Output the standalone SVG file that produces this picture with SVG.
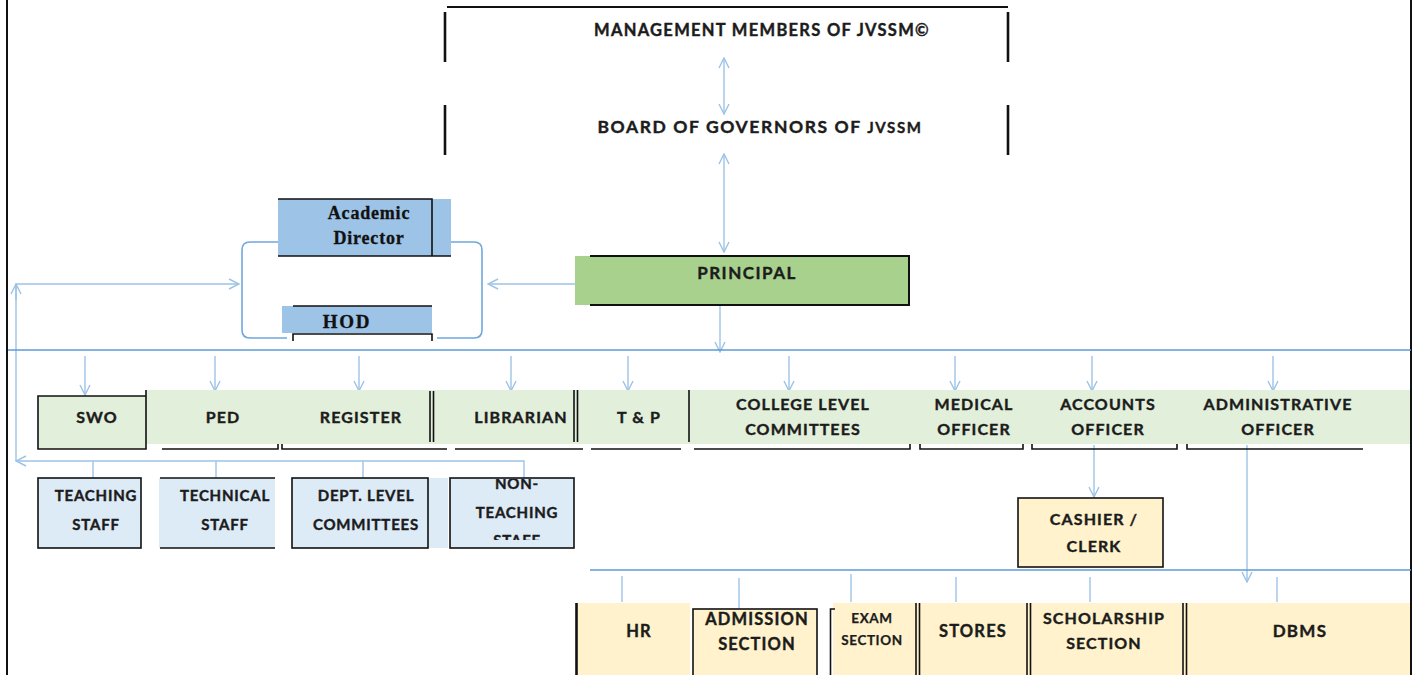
<svg xmlns="http://www.w3.org/2000/svg" width="1418" height="675" viewBox="0 0 1418 675">
<style>
  .t{font-family:Lato,"Open Sans","Liberation Sans",sans-serif;font-weight:bold;fill:#1c1c1c;stroke:#1c1c1c;stroke-width:0.4px;text-anchor:middle;font-size:16px;letter-spacing:1.1px}
  .m{font-size:15px;letter-spacing:0.8px}
  .bt{font-size:16.5px;letter-spacing:1.1px}
  .s{font-family:"Liberation Serif","DejaVu Serif",serif;font-weight:bold;fill:#111;stroke:#111;stroke-width:0.3px;text-anchor:middle;font-size:18px;letter-spacing:0.8px}
  .k{stroke:#111;fill:none;stroke-width:1.6}
  .kb{stroke:#111;fill:none;stroke-width:2.6}
  .c{stroke:#9dc3e6;fill:none;stroke-width:1.4}
  .tr{stroke:#5b9bd5;fill:none;stroke-width:1.6}
  .g{fill:#e2efda}
  .b{fill:#ddebf7}
  .y{fill:#fff2cc}
</style>
<defs>
  <marker id="ah" viewBox="0 0 12 12" refX="11" refY="6" markerWidth="12" markerHeight="12" markerUnits="userSpaceOnUse" orient="auto-start-reverse">
    <path d="M1,1 L11,6 L1,11" fill="none" stroke="#9dc3e6" stroke-width="1.4"/>
  </marker>
  <clipPath id="ntclip"><rect x="451" y="479" width="122" height="61"/></clipPath>
</defs>

<g id="frame">
  <line x1="7" y1="0" x2="7" y2="675" class="kb" style="stroke-width:2"/>
  <line x1="1411" y1="0" x2="1411" y2="675" class="kb" style="stroke-width:2"/>
</g>

<g id="management">
  <line x1="447" y1="7" x2="1008" y2="7" class="k" style="stroke-width:2"/>
  <line x1="445" y1="12" x2="445" y2="62" class="kb"/>
  <line x1="1008" y1="12" x2="1008" y2="62" class="kb"/>
  <text x="762" y="36" class="t" style="font-size:16.5px;letter-spacing:1.3px">MANAGEMENT MEMBERS OF JVSSM©</text>
</g>

<g id="board">
  <line x1="445" y1="105" x2="445" y2="155" class="kb"/>
  <line x1="1008" y1="105" x2="1008" y2="155" class="kb"/>
  <text x="760" y="133" class="t" style="font-size:17.5px;letter-spacing:1.6px">BOARD OF GOVERNORS OF <tspan style="font-size:15px">JVSSM</tspan></text>
</g>

<g id="connectors">
  <line x1="724" y1="58" x2="724" y2="114" class="c" marker-start="url(#ah)" marker-end="url(#ah)"/>
  <line x1="724" y1="154" x2="724" y2="252" class="c" marker-start="url(#ah)" marker-end="url(#ah)"/>
  <line x1="720" y1="306" x2="720" y2="352" class="c" marker-end="url(#ah)"/>
  <line x1="575" y1="284" x2="488" y2="284" class="c" marker-end="url(#ah)"/>
  <path d="M280,242 H250 Q242,242 242,250 V330 Q242,338 250,338 H287" class="tr" style="stroke:#6fa8dc"/>
  <path d="M451,242 H474 Q482,242 482,250 V330 Q482,338 474,338 H437" class="tr" style="stroke:#6fa8dc"/>
  <path d="M16,461 V284 H239" class="c" marker-end="url(#ah)"/>
  <line x1="16" y1="300" x2="16" y2="284" class="c" marker-end="url(#ah)"/>
  <path d="M524,481 V461 H16" class="c" marker-end="url(#ah)"/>
  <line x1="93" y1="461" x2="93" y2="478" class="c"/>
  <line x1="216" y1="461" x2="216" y2="478" class="c"/>
  <line x1="363" y1="461" x2="363" y2="478" class="c"/>
  <line x1="8" y1="350" x2="1411" y2="350" class="tr"/>
  <line x1="85" y1="356" x2="85" y2="395" class="c" marker-end="url(#ah)"/>
  <line x1="215" y1="356" x2="215" y2="391" class="c" marker-end="url(#ah)"/>
  <line x1="359" y1="356" x2="359" y2="391" class="c" marker-end="url(#ah)"/>
  <line x1="511" y1="356" x2="511" y2="391" class="c" marker-end="url(#ah)"/>
  <line x1="628" y1="356" x2="628" y2="391" class="c" marker-end="url(#ah)"/>
  <line x1="789" y1="356" x2="789" y2="391" class="c" marker-end="url(#ah)"/>
  <line x1="955" y1="356" x2="955" y2="391" class="c" marker-end="url(#ah)"/>
  <line x1="1092" y1="356" x2="1092" y2="391" class="c" marker-end="url(#ah)"/>
  <line x1="1273" y1="356" x2="1273" y2="391" class="c" marker-end="url(#ah)"/>
  <line x1="1094" y1="445" x2="1094" y2="497" class="c" marker-end="url(#ah)"/>
  <line x1="1247" y1="445" x2="1247" y2="582" class="c" marker-end="url(#ah)"/>
  <line x1="590" y1="570" x2="1411" y2="570" class="tr"/>
  <line x1="622" y1="576" x2="622" y2="602" class="c"/>
  <line x1="739" y1="578" x2="739" y2="608" class="c"/>
  <line x1="851" y1="574" x2="851" y2="602" class="c"/>
  <line x1="956" y1="577" x2="956" y2="602" class="c"/>
  <line x1="1090" y1="577" x2="1090" y2="602" class="c"/>
  <line x1="1277" y1="577" x2="1277" y2="602" class="c"/>
</g>

<g id="academic-director">
  <rect x="278" y="199" width="173" height="57" fill="#9dc3e6"/>
  <path d="M278,199 H432 V256 M278,256 H451" class="k"/>
  <text x="369" y="219" class="s">Academic</text>
  <text x="369" y="244" class="s">Director</text>
</g>

<g id="hod">
  <rect x="282" y="306" width="150" height="27" fill="#9dc3e6"/>
  <line x1="293" y1="306" x2="432" y2="306" class="k"/>
  <path d="M293,341 V334 H432 V341" class="k"/>
  <text x="347" y="328" class="s" style="font-size:19px;letter-spacing:1.8px">HOD</text>
</g>

<g id="principal">
  <rect x="575" y="256" width="334" height="49" fill="#a9d18e"/>
  <path d="M590,256 H909 V305 H590" class="k" style="stroke-width:2"/>
  <text x="747" y="279" class="t" style="font-size:17px;letter-spacing:1.5px">PRINCIPAL</text>
</g>

<g id="officers-band">
  <rect x="146" y="390" width="1264" height="54" class="g"/>
</g>

<g id="swo">
  <rect x="38" y="396" width="108" height="53" class="g"/>
  <path d="M146,390 V449 H38 V396 H146" class="k"/>
  <text x="97" y="423" class="t">SWO</text>
</g>
<g id="ped">
  <path d="M162,449 H278 V444" class="k"/>
  <text x="223" y="423" class="t">PED</text>
</g>
<g id="register">
  <path d="M282,444 V449 H447" class="k"/>
  <line x1="430" y1="391" x2="430" y2="442" class="k"/>
  <line x1="433.5" y1="391" x2="433.5" y2="442" class="k"/>
  <text x="361" y="423" class="t">REGISTER</text>
</g>
<g id="librarian">
  <line x1="455" y1="449" x2="583" y2="449" class="k"/>
  <line x1="574" y1="390" x2="574" y2="442" class="k"/>
  <line x1="577.5" y1="390" x2="577.5" y2="442" class="k"/>
  <text x="521" y="423" class="t">LIBRARIAN</text>
</g>
<g id="tp">
  <line x1="591" y1="449" x2="681" y2="449" class="k"/>
  <line x1="689" y1="390" x2="689" y2="442" class="k"/>
  <text x="639" y="423" class="t">T &amp; P</text>
</g>
<g id="college-committees">
  <path d="M694,449 H910 V444" class="k"/>
  <text x="803" y="410" class="t">COLLEGE LEVEL</text>
  <text x="803" y="435" class="t">COMMITTEES</text>
</g>
<g id="medical">
  <path d="M920,444 V449 H1023 V444" class="k"/>
  <text x="974" y="410" class="t">MEDICAL</text>
  <text x="974" y="435" class="t">OFFICER</text>
</g>
<g id="accounts">
  <path d="M1032,444 V449 H1177 V444" class="k"/>
  <text x="1108" y="410" class="t">ACCOUNTS</text>
  <text x="1108" y="435" class="t">OFFICER</text>
</g>
<g id="administrative">
  <path d="M1187,444 V449 H1363" class="k"/>
  <text x="1278" y="410" class="t">ADMINISTRATIVE</text>
  <text x="1278" y="435" class="t">OFFICER</text>
</g>

<g id="teaching-staff">
  <rect x="38" y="478" width="103" height="70" class="b"/>
  <rect x="38" y="478" width="103" height="70" class="k"/>
  <text x="96" y="501" class="t m">TEACHING</text>
  <text x="96" y="530" class="t m">STAFF</text>
</g>
<g id="technical-staff">
  <rect x="159" y="478" width="116" height="70" class="b"/>
  <path d="M160,478 H275 M160,548 H275" class="k"/>
  <text x="225" y="501" class="t m">TECHNICAL</text>
  <text x="225" y="530" class="t m">STAFF</text>
</g>
<g id="dept-committees">
  <rect x="292" y="478" width="156" height="70" class="b"/>
  <rect x="292" y="478" width="136" height="70" class="k"/>
  <text x="366" y="501" class="t m">DEPT. LEVEL</text>
  <text x="366" y="530" class="t m">COMMITTEES</text>
</g>
<g id="non-teaching-staff">
  <rect x="450" y="478" width="124" height="70" class="b"/>
  <rect x="450" y="478" width="124" height="70" class="k"/>
  <g clip-path="url(#ntclip)">
    <text x="517" y="489" class="t m">NON-</text>
    <text x="517" y="518" class="t m">TEACHING</text>
    <text x="517" y="546" class="t m">STAFF</text>
  </g>
</g>

<g id="cashier">
  <rect x="1018" y="498" width="145" height="69" class="y"/>
  <rect x="1018" y="498" width="145" height="69" class="k"/>
  <text x="1094" y="525" class="t">CASHIER /</text>
  <text x="1094" y="552" class="t">CLERK</text>
</g>

<g id="hr">
  <rect x="575" y="603" width="115" height="72" class="y"/>
  <line x1="576.5" y1="603" x2="576.5" y2="675" class="kb"/>
  <text x="639" y="637" class="t bt">HR</text>
</g>
<g id="admission">
  <rect x="693" y="609" width="124" height="70" class="y"/>
  <rect x="693" y="609" width="124" height="70" class="k"/>
  <text x="757" y="625" class="t bt">ADMISSION</text>
  <text x="757" y="650" class="t bt">SECTION</text>
</g>
<g id="exam">
  <rect x="833" y="603" width="83" height="72" class="y"/>
  <path d="M835,609 H830.5 V675" class="k"/>
  <text x="872" y="623" class="t" style="font-size:13.5px;letter-spacing:0.6px;stroke-width:0.25px">EXAM</text>
  <text x="872" y="645" class="t" style="font-size:13.5px;letter-spacing:0.6px;stroke-width:0.25px">SECTION</text>
</g>
<g id="stores">
  <rect x="916" y="603" width="111" height="72" class="y"/>
  <line x1="916" y1="603" x2="916" y2="675" class="k"/>
  <line x1="919.5" y1="603" x2="919.5" y2="675" class="k"/>
  <text x="973" y="637" class="t" style="font-size:16.5px;letter-spacing:1.2px">STORES</text>
</g>
<g id="scholarship">
  <rect x="1027" y="603" width="156" height="72" class="y"/>
  <line x1="1027" y1="603" x2="1027" y2="675" class="k"/>
  <line x1="1030.5" y1="603" x2="1030.5" y2="675" class="k"/>
  <text x="1104" y="624" class="t">SCHOLARSHIP</text>
  <text x="1104" y="649" class="t">SECTION</text>
</g>
<g id="dbms">
  <rect x="1183" y="603" width="227" height="72" class="y"/>
  <line x1="1183" y1="603" x2="1183" y2="675" class="k"/>
  <line x1="1186.5" y1="603" x2="1186.5" y2="675" class="k"/>
  <text x="1300" y="637" class="t" style="font-size:17px;letter-spacing:1.3px">DBMS</text>
</g>
</svg>
